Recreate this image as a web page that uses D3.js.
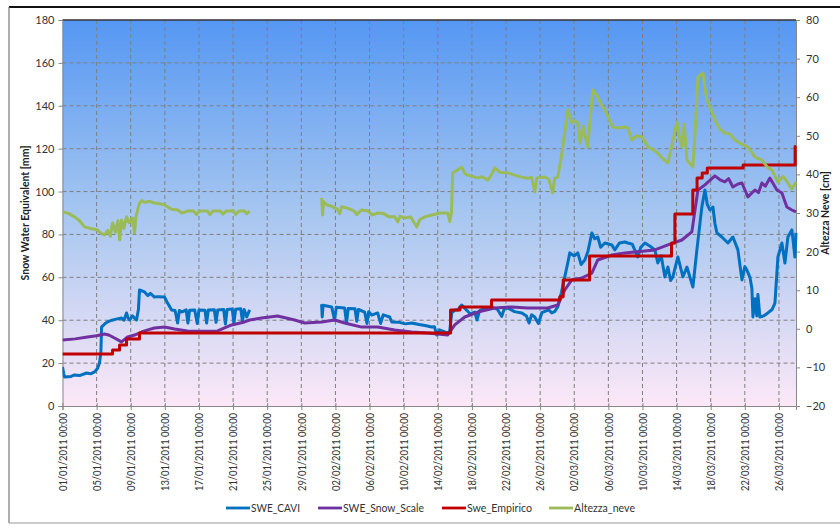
<!DOCTYPE html>
<html><head><meta charset="utf-8">
<script src="https://cdn.jsdelivr.net/npm/d3@7"></script>
<style>body{margin:0;background:#fff}svg{display:block}text{font-family:Lato,"Open Sans",sans-serif}</style>
</head><body><svg id="c" width="840" height="531"></svg>
<script>
// ---- data (day offset from 01/01/2011 00:00, value) ----
const seriesNames = ["SWE_CAVI","SWE_Snow_Scale","Swe_Empirico","Altezza_neve"];
const leftTicks = [0,20,40,60,80,100,120,140,160,180];
const rightTicks = [-20,-10,0,10,20,30,40,50,60,70,80];
const xTickLabels = ["01/01/2011 00:00","05/01/2011 00:00","09/01/2011 00:00","13/01/2011 00:00","17/01/2011 00:00","21/01/2011 00:00","25/01/2011 00:00","29/01/2011 00:00","02/02/2011 00:00","06/02/2011 00:00","10/02/2011 00:00","14/02/2011 00:00","18/02/2011 00:00","22/02/2011 00:00","26/02/2011 00:00","02/03/2011 00:00","06/03/2011 00:00","10/03/2011 00:00","14/03/2011 00:00","18/03/2011 00:00","22/03/2011 00:00","26/03/2011 00:00"];
const xDomainDays = [0,86];

const sweCavi = [[0,18.2],[0.15,15],[0.23,13.5],[1.0,13.8],[1.41,14.5],[2.0,14.2],[2.82,15.4],[3.3,15.0],[3.75,15.9],[4.1,17.5],[4.34,20.1],[4.5,25],[4.58,36.8],[5.0,38.5],[5.28,39.2],[5.8,40.0],[6.3,40.5],[6.92,41.0],[7.2,40.0],[7.51,43.4],[7.7,41.0],[7.86,40.1],[8.2,42.0],[8.68,40.1],[8.9,45],[9.03,54.1],[9.62,53.2],[10.0,51.5],[10.3,52.5],[10.79,50.8],[11.2,51.0],[11.97,50.8],[12.32,48.0],[12.79,44.8],[13.2,44.5],[13.5,38.7],[13.7,44.5],[13.96,43.8],[14.5,44.8],[14.7,38.7],[14.9,44.6],[15.5,44.8],[15.8,38.5],[16.0,44.8],[16.7,44.7],[16.9,38.7],[17.1,44.8],[17.8,44.9],[18.0,39.0],[18.2,44.8],[18.9,45.0],[19.1,38.2],[19.3,45.0],[19.9,45.2],[20.1,38.8],[20.3,45.1],[20.9,45.3],[21.1,39.5],[21.3,45.0],[21.6,41.5],[21.94,44.8],[22,null],
[30.38,47.5],[30.45,41.5],[30.55,47.0],[31.56,46.2],[31.9,40.0],[32.1,46.0],[33.08,45.7],[33.3,38.7],[33.5,45.5],[34.3,45.3],[34.5,39.5],[34.7,45.0],[35.43,43.8],[35.7,38.5],[35.9,44.0],[36.25,42.4],[36.95,43.4],[37.3,38.5],[37.6,42.5],[38.36,41.5],[38.60,39.2],[39.5,39.0],[40.2,38.3],[40.94,38.7],[41.8,38.0],[42.5,37.5],[43.29,36.8],[43.6,37.0],[43.88,33.1],[44.2,35.5],[45.17,34.0],[45.4,35],[45.64,43.4],[46.0,44.8],[46.34,44.8],[46.81,47.1],[47.3,45.0],[47.8,43.0],[48.33,43.8],[48.6,40.1],[48.9,44.5],[49.5,45.5],[50.33,46.2],[51.0,45.0],[51.5,41.8],[51.8,45.5],[52.21,45.7],[53.0,44.0],[53.85,43.4],[54.4,42.0],[54.7,38.7],[55.0,42.5],[55.37,41.5],[55.8,38.5],[56.2,43.5],[57.0,44.8],[57.37,43.4],[57.7,44.0],[58.07,46.2],[58.5,53.0],[58.89,60.2],[59.2,66],[59.48,71.4],[60.0,70.0],[60.42,71.4],[60.8,66.0],[61.24,68.1],[61.6,72.0],[62.06,80.7],[62.4,78.0],[62.76,78.8],[63.1,74.0],[63.59,76.0],[64.41,75.1],[64.76,72.8],[65.3,76.0],[65.93,76.5],[66.28,76.0],[66.8,75.5],[67.45,69.5],[67.8,74.0],[68.28,76.0],[68.9,74.5],[69.45,72.8],[69.80,66.7],[70.2,70.0],[70.63,60.2],[70.98,64.8],[71.3,58.5],[71.56,60.2],[72.15,69.5],[72.5,64.0],[72.74,60.2],[73.21,64.8],[73.91,55.5],[74.38,72.8],[74.96,92.8],[75.32,100.7],[75.6,94.0],[75.90,91.4],[76.26,92.8],[76.5,85.0],[76.73,80.7],[77.31,78.8],[78.02,76.0],[78.60,78.8],[79.19,72.8],[79.66,58.8],[80.0,65.0],[80.24,63.4],[80.6,60.0],[80.83,54.8],[80.95,41.5],[81.2,50.0],[81.4,42.0],[81.53,52.0],[81.77,41.5],[82.2,42.0],[82.70,43.4],[83.2,45.0],[83.53,48.0],[83.88,69.5],[84.35,76.0],[84.70,66.7],[85.05,78.8],[85.52,82.1],[85.87,69.5],[86,80.7]];

const sweSnowScale = [[0,30.8],[1.5,31.3],[2.93,32.2],[4.0,32.8],[4.93,33.6],[5.5,33.0],[6.10,31.7],[6.92,29.9],[7.63,32.2],[8.45,33.1],[9.27,34.5],[10.0,35.5],[10.79,36.4],[11.97,36.8],[13.14,35.9],[14.66,35.0],[16.5,34.9],[18.18,35.0],[19.83,37.8],[21.35,39.2],[21.94,40.1],[23.35,41.0],[25.22,42.0],[27.22,40.1],[28.39,38.7],[30.38,39.2],[31.91,40.1],[33.08,38.7],[35.08,36.8],[36.95,36.8],[38.95,35.4],[40.94,34.5],[42.82,34.0],[43.99,33.6],[45.17,33.1],[45.99,37.8],[47.16,41.5],[48.69,43.8],[50.68,45.7],[52.67,46.2],[54.55,45.7],[56.90,45.7],[58.07,47.1],[58.89,54.1],[59.71,58.8],[60.89,59.7],[62.06,62.0],[62.76,68.1],[64.41,70.4],[65.93,71.4],[67.10,71.8],[69.45,72.8],[70.98,75.1],[72.62,77.4],[73.79,81.2],[74.50,100.7],[75.32,103.1],[76.49,107.3],[77.1,105.5],[77.66,104.5],[78.1,106.0],[78.60,102.1],[79.2,103.5],[79.66,104.0],[80.36,97.5],[81.18,100.7],[81.6,99.5],[82.00,104.0],[82.4,102.5],[82.94,106.3],[83.76,100.7],[84.35,99.3],[84.93,92.8],[85.52,91.4],[86,90.5]];

const sweEmpirico = [[0,24.3],[5.87,26.1],[6.69,28.5],[7.51,31.3],[9.03,34.0],[45.5,44.8],[46.6,46.2],[50.3,49.4],[58.3,51],[58.7,58.8],[61.8,70.0],[71.4,76],[71.8,89.5],[73.9,100.7],[74.4,106.3],[75.0,108.7],[75.6,111.0],[79.8,112.4],[85.9,121],[86,121]];

const altezzaNeve = [[0,30.3],[0.7,29.9],[1.41,29.0],[2.0,28.0],[2.58,26.4],[3.3,26.0],[4.11,25.6],[4.5,24.8],[4.93,24.3],[5.3,25.5],[5.6,24.0],[5.87,27.4],[6.2,25.0],[6.5,28.0],[6.7,23.0],[6.92,28.2],[7.2,26.0],[7.51,29.0],[7.8,27.5],[8.2,28.7],[8.45,24.8],[8.6,29.0],[9.03,32.6],[9.3,33.2],[9.62,32.8],[10.2,33.0],[10.79,32.6],[11.4,32.4],[11.97,32.1],[12.4,31.5],[12.79,31.0],[13.5,30.8],[14.0,30.0],[14.66,30.5],[15.3,30.6],[15.7,29.6],[16,30.5],[17,30.5],[17.3,29.6],[17.6,30.5],[18.5,30.5],[18.8,29.7],[19.2,30.5],[20,30.6],[20.3,29.6],[20.7,30.5],[21.3,30.6],[21.6,29.8],[21.94,30.5],[22,null],
[30.38,33.9],[30.5,29.5],[30.6,33.0],[30.97,32.1],[31.5,31.8],[32.2,31.0],[32.5,29.8],[32.73,31.6],[33.5,31.2],[34.2,30.5],[34.5,29.6],[35.08,30.8],[35.8,30.6],[36.3,29.5],[36.95,30.0],[37.6,29.9],[38.3,29.0],[38.95,29.0],[39.3,27.7],[39.6,29.2],[40.12,28.7],[40.8,29.0],[41.2,27.6],[41.53,26.4],[41.9,28.3],[42.47,29.0],[43.2,29.4],[44.23,30.0],[44.8,30.0],[45.17,30.0],[45.40,27.8],[45.6,30.0],[45.75,40.4],[46.2,41.0],[46.81,41.9],[47.2,40.2],[47.51,39.8],[48.0,39.5],[48.69,39.1],[49.2,39.4],[49.86,38.5],[50.3,40.0],[50.68,41.7],[51.3,40.5],[52.21,40.4],[53.0,39.8],[53.85,39.3],[54.5,39.0],[55.0,39.2],[55.37,35.4],[55.6,39.1],[56.55,39.3],[57.0,38.8],[57.48,35.2],[57.7,39.0],[58.07,39.3],[58.4,43.5],[58.66,47.1],[59.0,53.0],[59.24,56.7],[59.71,53.3],[60.0,54.0],[60.42,53.3],[60.7,48.1],[61.0,52.5],[61.59,47.1],[61.9,55.0],[62.18,61.9],[62.76,60.1],[63.2,58.0],[63.59,56.7],[64.52,52.3],[65.2,52.0],[65.93,52.3],[66.28,52.0],[66.75,48.9],[67.3,50.0],[67.93,49.7],[68.3,48.5],[68.63,47.1],[69.2,46.5],[69.80,45.5],[70.4,44.0],[70.98,43.0],[71.5,48.0],[72.03,53.6],[72.3,50.0],[72.62,47.1],[72.9,53.0],[73.21,43.7],[73.91,41.9],[74.2,52.0],[74.50,65.2],[75.09,66.3],[75.3,63.0],[75.55,59.3],[76.0,57.0],[76.49,54.1],[77.0,52.0],[77.66,50.7],[78.2,50.5],[78.84,48.9],[79.5,48.0],[80.36,47.1],[81.2,44.5],[82.00,43.7],[82.6,42.0],[83.18,41.1],[83.88,38.0],[84.5,39.5],[85.05,37.8],[85.5,36.2],[86,38.0]];

const colors = ["#0070c0","#7030a0","#c00000","#9bbb59"];

// ---- layout ----
const svg = d3.select("#c");
const L = 62.5, R = 796, T = 20, B = 406;
const x = d3.scaleLinear().domain(xDomainDays).range([L, R]);
const yL = d3.scaleLinear().domain([0,180]).range([B, T]);
const yR = d3.scaleLinear().domain([-20,80]).range([B, T]);

const defs = svg.append("defs");
const g = defs.append("linearGradient").attr("id","bg").attr("x1",0).attr("y1",0).attr("x2",0).attr("y2",1);
g.append("stop").attr("offset","0%").attr("stop-color","#5597f3");
g.append("stop").attr("offset","50%").attr("stop-color","#a6c6f0");
g.append("stop").attr("offset","100%").attr("stop-color","#fce8f7");

// outer frame
svg.append("line").attr("x1",9).attr("x2",840).attr("y1",7).attr("y2",7).attr("stroke","#111").attr("stroke-width",2);
svg.append("line").attr("x1",9).attr("x2",9).attr("y1",7).attr("y2",523).attr("stroke","#777").attr("stroke-width",1.2);
svg.append("line").attr("x1",9).attr("x2",840).attr("y1",523).attr("y2",523).attr("stroke","#999").attr("stroke-width",1.2);

svg.append("rect").attr("x",L).attr("y",T).attr("width",R-L).attr("height",B-T).attr("fill","url(#bg)");

const dayOf = s => { const [d,m,yy] = s.split(" ")[0].split("/").map(Number); return (Date.UTC(yy,m-1,d)-Date.UTC(2011,0,1))/86400000; };
const xTickDays = xTickLabels.map(dayOf);

// grid
svg.append("g").selectAll("line").data(leftTicks.slice(1,-1)).join("line")
  .attr("x1",L).attr("x2",R).attr("y1",d=>yL(d)).attr("y2",d=>yL(d))
  .attr("stroke","#7f7f7f").attr("stroke-dasharray","4,3").attr("stroke-width",1);
svg.append("g").selectAll("line").data(xTickDays.slice(1)).join("line")
  .attr("x1",d=>x(d)).attr("x2",d=>x(d)).attr("y1",T).attr("y2",B)
  .attr("stroke","#7f7f7f").attr("stroke-dasharray","4,3").attr("stroke-width",1);

// plot top border
svg.append("line").attr("x1",L).attr("x2",R).attr("y1",T).attr("y2",T).attr("stroke","#333").attr("stroke-width",1.5);

// axes
const axL = svg.append("g").attr("transform",`translate(${L},0)`).call(d3.axisLeft(yL).tickValues(leftTicks).tickSize(4).tickPadding(4));
const axR = svg.append("g").attr("transform",`translate(${R},0)`).call(d3.axisRight(yR).tickValues(rightTicks).tickSize(4).tickPadding(6));
const axB = svg.append("g").attr("transform",`translate(0,${B})`).call(d3.axisBottom(x).tickValues(xTickDays).tickFormat((d,i)=>xTickLabels[i]).tickSize(4).tickPadding(4));
[axL,axR,axB].forEach(a=>{a.select(".domain").attr("stroke","#888"); a.selectAll(".tick line").attr("stroke","#888"); a.selectAll("text").attr("fill","#333").style("font-size","11px").style("font-family","Lato, 'Open Sans', sans-serif");});
axB.selectAll(".tick line").attr("y1",-3);
axB.selectAll("text").style("font-size","10.5px").attr("transform","rotate(-90)").attr("text-anchor","end").attr("dy","0.35em").attr("x",-7).attr("y",0)
  .attr("textLength",78).attr("lengthAdjust","spacingAndGlyphs");

// titles
svg.append("text").attr("transform","translate(29,213) rotate(-90)").attr("text-anchor","middle").style("font-size","10.5px").style("font-weight","bold").attr("fill","#222").text("Snow Water Equivalent [mm]");
svg.append("text").attr("transform","translate(829,213) rotate(-90)").attr("text-anchor","middle").style("font-size","10.5px").style("font-weight","bold").attr("fill","#222").text("Altezza Neve [cm]");

// lines
defs.append("clipPath").attr("id","pc").append("rect").attr("x",L).attr("y",T).attr("width",R-L+2).attr("height",B-T);
const lineL = d3.line().defined(d=>d[1]!==null).x(d=>x(d[0])).y(d=>yL(d[1]));
const stepL = d3.line().curve(d3.curveStepAfter).x(d=>x(d[0])).y(d=>yL(d[1]));
const lineR = d3.line().defined(d=>d[1]!==null).x(d=>x(d[0])).y(d=>yR(d[1]));
const pg = svg.append("g").attr("clip-path","url(#pc)").attr("fill","none").attr("stroke-width",3).attr("stroke-linejoin","round");
pg.append("path").attr("d",lineL(sweCavi)).attr("stroke",colors[0]);
pg.append("path").attr("d",lineL(sweSnowScale)).attr("stroke",colors[1]);
pg.append("path").attr("d",stepL(sweEmpirico)).attr("stroke",colors[2]);
pg.append("path").attr("d",lineR(altezzaNeve)).attr("stroke",colors[3]);

// legend
const legX = [226,318,442,549];
const legW = [49,81,65,61];
const lg = svg.append("g").selectAll("g").data(seriesNames).join("g").attr("transform",(d,i)=>`translate(${legX[i]},508)`);
lg.append("line").attr("x1",0).attr("x2",24).attr("stroke",(d,i)=>colors[i]).attr("stroke-width",2.8);
lg.append("text").attr("x",25).attr("dy","0.35em").style("font-size","11px").attr("fill","#333")
  .attr("textLength",(d,i)=>legW[i]).attr("lengthAdjust","spacingAndGlyphs").text(d=>d);
</script></body></html>
